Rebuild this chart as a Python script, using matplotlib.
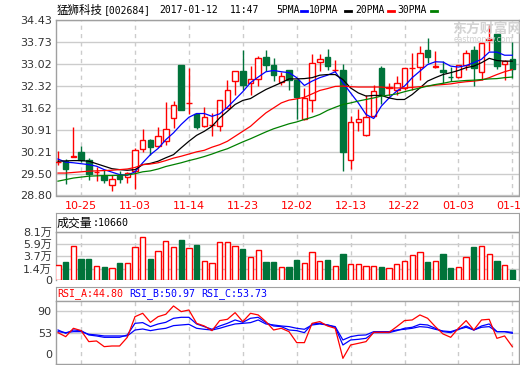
import matplotlib
matplotlib.use('Agg')
import matplotlib.pyplot as plt
from matplotlib.patches import Rectangle
from matplotlib.lines import Line2D

plt.rcParams['font.family'] = ['DejaVu Sans', 'Noto Sans CJK SC']

# ---- data ----
dates = ['10-20', '10-21', '10-24', '10-25', '10-26', '10-27', '10-28', '10-31',
         '11-01', '11-02', '11-03', '11-04', '11-07', '11-08', '11-09', '11-10',
         '11-11', '11-14', '11-15', '11-16', '11-17', '11-18', '11-21', '11-22',
         '11-23', '11-24', '11-25', '11-28', '11-29', '11-30', '12-01', '12-02',
         '12-05', '12-06', '12-07', '12-08', '12-09', '12-12', '12-13', '12-14',
         '12-15', '12-16', '12-19', '12-20', '12-21', '12-22', '12-23', '12-26',
         '12-27', '12-28', '12-29', '12-30', '01-03', '01-04', '01-05', '01-06',
         '01-09', '01-10', '01-11', '01-12']
shown_dates = ['10-25', '11-03', '11-14', '11-23', '12-02', '12-13', '12-22', '01-03', '01-12']

opens = [29.87, 29.90, 30.05, 30.20, 29.93, 29.55, 29.44, 29.13, 29.45, 29.38,
         29.57, 30.28, 30.58, 30.38, 30.54, 31.29, 32.98, 31.76, 31.43, 31.02,
         31.05, 31.02, 31.61, 32.47, 32.80, 32.42, 32.55, 33.24, 32.99, 32.45,
         32.84, 32.52, 31.24, 31.86, 33.08, 33.25, 32.81, 32.83, 29.93, 31.15,
         30.73, 31.34, 32.90, 32.25, 32.18, 32.25, 32.88, 32.92, 33.47, 32.91,
         32.81, 32.61, 32.60, 33.00, 33.47, 32.77, 33.80, 33.99, 33.03, 33.19]
highs = [30.22, 29.98, 31.00, 30.39, 30.01, 29.72, 29.63, 29.47, 29.60, 29.56,
         30.33, 30.94, 30.62, 31.00, 31.79, 31.83, 33.00, 32.88, 31.45, 31.63,
         31.44, 31.86, 32.49, 32.79, 33.48, 32.95, 33.27, 33.47, 33.20, 32.77,
         32.84, 32.52, 32.25, 33.33, 33.33, 33.51, 33.14, 33.03, 31.34, 31.57,
         32.04, 32.36, 32.97, 32.42, 32.63, 32.89, 33.38, 33.59, 33.86, 33.43,
         33.11, 32.92, 32.98, 33.47, 33.59, 33.70, 34.27, 33.99, 33.16, 33.72]
lows = [29.79, 29.18, 30.04, 29.88, 29.29, 29.26, 29.20, 28.96, 29.19, 29.20,
        29.02, 30.20, 30.11, 30.37, 30.43, 30.97, 31.53, 31.40, 30.92, 31.01,
        30.70, 30.88, 31.60, 32.02, 32.20, 32.04, 32.31, 32.79, 32.47, 32.36,
        32.20, 31.27, 31.21, 31.48, 32.79, 32.81, 32.77, 29.60, 29.66, 30.86,
        30.72, 31.32, 31.72, 31.99, 32.04, 32.18, 32.20, 32.52, 33.04, 32.88,
        32.42, 32.47, 32.58, 32.84, 32.31, 32.52, 33.43, 32.87, 32.50, 32.58]
closes = [29.88, 29.66, 30.07, 29.95, 29.50, 29.56, 29.31, 29.32, 29.34, 29.51,
          30.25, 30.57, 30.34, 30.70, 30.92, 31.70, 31.55, 31.78, 31.00, 31.33,
          31.06, 31.86, 32.18, 32.79, 32.36, 32.53, 33.21, 32.98, 32.68, 32.63,
          32.49, 31.97, 31.92, 33.05, 33.18, 32.97, 32.82, 30.21, 31.15, 31.26,
          31.32, 32.16, 32.07, 32.28, 32.40, 32.89, 32.89, 33.38, 33.25, 32.96,
          32.76, 32.59, 32.98, 33.37, 32.90, 33.70, 33.81, 32.97, 33.11, 32.87]

ma5 = [29.97, 29.87, 29.85, 29.82, 29.79, 29.74, 29.63, 29.55, 29.47, 29.45,
       29.56, 29.85, 30.11, 30.31, 30.59, 30.81, 31.08, 31.31, 31.43, 31.43,
       31.34, 31.42, 31.63, 31.88, 32.13, 32.42, 32.60, 32.77, 32.81, 32.77,
       32.74, 32.58, 32.33, 32.47, 32.58, 32.66, 32.77, 32.42, 32.09, 31.77,
       31.40, 31.27, 31.67, 31.93, 32.15, 32.31, 32.58, 32.79, 33.00, 33.09,
       33.08, 32.95, 32.92, 32.97, 33.06, 33.17, 33.40, 33.40, 33.30, 33.30]
ma10 = [29.90, 29.91, 29.92, 29.92, 29.90, 29.82, 29.74, 29.66, 29.63, 29.61,
        29.63, 29.79, 29.83, 29.90, 30.01, 30.11, 30.33, 30.54, 30.73, 30.86,
        31.02, 31.29, 31.50, 31.72, 31.85, 31.91, 32.06, 32.20, 32.31, 32.42,
        32.54, 32.54, 32.55, 32.58, 32.66, 32.68, 32.68, 32.52, 32.25, 32.09,
        31.99, 32.01, 32.01, 31.93, 31.88, 31.88, 32.04, 32.25, 32.47, 32.58,
        32.68, 32.74, 32.81, 32.90, 32.95, 33.06, 33.20, 33.13, 33.11, 33.11]
ma20 = [29.52, 29.52, 29.54, 29.56, 29.58, 29.59, 29.60, 29.61, 29.63, 29.65,
        29.70, 29.79, 29.81, 29.85, 29.92, 30.00, 30.06, 30.13, 30.20, 30.25,
        30.35, 30.43, 30.54, 30.70, 30.86, 31.02, 31.24, 31.45, 31.61, 31.77,
        31.86, 31.90, 31.95, 32.06, 32.17, 32.23, 32.30, 32.31, 32.29, 32.28,
        32.28, 32.28, 32.28, 32.25, 32.25, 32.25, 32.27, 32.29, 32.31, 32.34,
        32.36, 32.38, 32.42, 32.45, 32.47, 32.50, 32.58, 32.68, 32.77, 32.84]
ma30 = [29.26, 29.31, 29.36, 29.39, 29.42, 29.43, 29.44, 29.44, 29.45, 29.46,
        29.50, 29.56, 29.59, 29.65, 29.73, 29.79, 29.85, 29.92, 29.98, 30.05,
        30.13, 30.22, 30.30, 30.41, 30.52, 30.62, 30.73, 30.84, 30.94, 31.02,
        31.10, 31.16, 31.24, 31.31, 31.40, 31.53, 31.63, 31.72, 31.77, 31.83,
        31.88, 31.93, 31.99, 32.02, 32.06, 32.13, 32.19, 32.25, 32.31, 32.36,
        32.40, 32.45, 32.47, 32.49, 32.50, 32.52, 32.54, 32.55, 32.58, 32.60]

# volume in 万 (10k lots)
volumes = [2.03, 2.65, 5.56, 3.20, 3.20, 1.84, 1.72, 1.47, 2.46, 2.46,
           5.37, 7.23, 3.20, 4.63, 6.49, 5.37, 6.74, 5.19, 5.81, 2.77,
           2.46, 6.30, 6.30, 5.56, 5.06, 3.51, 4.88, 2.65, 2.65, 1.65,
           1.65, 3.02, 2.46, 4.44, 2.77, 3.02, 1.84, 4.13, 2.21, 2.21,
           1.84, 1.84, 1.65, 1.47, 2.21, 2.77, 3.89, 4.44, 2.65, 2.77,
           4.13, 1.47, 1.65, 3.51, 5.44, 5.56, 4.07, 2.77, 2.03, 1.07]
vol_ticks = [1.4, 3.7, 5.9, 8.1]

rsi_a = [53.1, 46.3, 60.5, 56.5, 37.9, 39.0, 29.4, 30.5, 30.5, 45.2,
         80.2, 85.9, 70.6, 80.2, 84.2, 98.3, 88.7, 91.5, 68.9, 64.4,
         56.5, 73.5, 75.7, 87.0, 71.8, 85.9, 83.1, 71.8, 57.6, 60.5,
         54.8, 36.2, 36.2, 68.9, 71.8, 64.4, 60.5, 9.6, 32.2, 35.0,
         37.9, 53.7, 53.7, 53.7, 63.3, 73.5, 74.6, 83.1, 77.4, 63.3,
         50.9, 45.2, 60.5, 73.5, 57.6, 74.6, 75.7, 43.5, 47.5, 29.4]
rsi_b = [57.6, 52.0, 57.6, 56.5, 49.2, 47.5, 45.2, 45.2, 45.2, 49.2,
         68.9, 70.1, 63.3, 67.8, 70.6, 77.4, 79.1, 79.1, 67.8, 63.3,
         58.8, 64.4, 68.9, 74.6, 70.6, 77.4, 79.1, 70.1, 64.4, 63.3,
         57.6, 56.5, 53.1, 67.8, 68.9, 66.1, 62.2, 32.2, 40.7, 41.8,
         43.5, 53.1, 53.1, 53.1, 56.5, 60.5, 62.2, 67.2, 66.1, 60.5,
         54.8, 53.1, 58.8, 64.4, 57.6, 64.4, 67.8, 54.8, 54.8, 52.0]
rsi_c = [54.8, 53.1, 54.8, 54.8, 50.3, 49.2, 47.5, 47.5, 47.5, 47.5,
         57.6, 59.3, 56.5, 58.8, 60.5, 65.0, 66.1, 67.2, 60.5, 58.8,
         57.6, 60.5, 64.4, 67.8, 68.9, 70.1, 74.6, 67.8, 66.1, 64.4,
         63.3, 60.5, 58.8, 66.1, 67.8, 66.1, 63.3, 40.7, 46.3, 48.6,
         49.2, 54.8, 54.8, 54.8, 57.6, 58.8, 60.5, 63.3, 62.2, 58.8,
         55.9, 54.8, 58.8, 62.2, 57.6, 62.2, 63.3, 54.8, 54.8, 53.7]

price_labels = ['28.80', '29.50', '30.21', '30.91', '31.62', '32.32', '33.02', '33.73', '34.43']
price_min, price_max = 28.80, 34.43

RED = '#ff0000'
GREEN = '#00733a'
GRID = '#cccccc'
SPINE = '#a0a0a0'
LABEL = '#333333'

W, H = 520, 365
fig = plt.figure(figsize=(W / 100, H / 100), dpi=100, facecolor='white')


def px_axes(x0, y0, x1, y1):
    return fig.add_axes([x0 / W, 1 - y1 / H, (x1 - x0) / W, (y1 - y0) / H])


def fig_text(x, y, s, **kw):
    fig.text(x / W, 1 - y / H, s, va='center', ha='left', **kw)


x = list(range(len(dates)))
tick_idx = [dates.index(d) for d in shown_dates]
xlim = (-0.26, len(dates) - 0.13)


def style(ax):
    for s in ax.spines.values():
        s.set_color(SPINE)
        s.set_linewidth(1)
    ax.set_xlim(*xlim)
    ax.set_xticks(tick_idx)
    ax.tick_params(length=0, labelsize=8, colors=LABEL, pad=3)
    ax.grid(axis='x', color=GRID, linestyle=(0, (3, 3)), linewidth=1)
    ax.grid(axis='y', color=GRID, linestyle='-', linewidth=1)
    ax.set_axisbelow(True)


def header_box(y0, y1):
    hx = px_axes(56, y0, 519, y1)
    hx.set_xticks([])
    hx.set_yticks([])
    for s in hx.spines.values():
        s.set_color(SPINE)
    return hx


# ---- price panel ----
ax = px_axes(56, 20, 519, 195.5)
style(ax)
ax.set_ylim(price_min, price_max)
ax.set_yticks([float(v) for v in price_labels])
ax.set_yticklabels(price_labels)
ax.set_xticklabels(shown_dates, color=RED)
ax.tick_params(axis='x', labelcolor=RED, pad=4)

w = 0.72
for i in x:
    o, h, l, c = opens[i], highs[i], lows[i], closes[i]
    up = c >= o
    col = RED if up else GREEN
    ax.vlines(i, l, h, color=col, linewidth=1, zorder=2)
    ax.add_patch(Rectangle((i - w / 2, min(o, c)), w, max(abs(c - o), 0.004),
                           facecolor='white' if up else GREEN, edgecolor=col,
                           linewidth=1, zorder=3))

ax.plot(x, ma5, color='#0000ff', linewidth=0.9, zorder=4)
ax.plot(x, ma10, color='black', linewidth=0.9, zorder=4)
ax.plot(x, ma20, color=RED, linewidth=0.9, zorder=4)
ax.plot(x, ma30, color='#008000', linewidth=0.9, zorder=4)

# watermark
fig_text(452, 29, '东方财富网', fontsize=10, fontweight='bold', color='#c8c8c8',
         family=['Noto Sans CJK SC'], alpha=0.8, zorder=10)
fig_text(454, 40, 'eastmoney.com', fontsize=5.5, color='#d0d0d0', zorder=10)

# title + legend
fig_text(57, 10, '猛狮科技', fontsize=8.3, family=['Noto Sans CJK SC'], color='black')
fig_text(104, 10, '[002684]', fontsize=7, family=['DejaVu Sans Mono'], color='black')
fig_text(159, 10, '2017-01-12', fontsize=7, family=['DejaVu Sans Mono'], color='black')
fig_text(230, 10, '11:47', fontsize=7, family=['DejaVu Sans Mono'], color='black')
legend_items = [('5PMA', 276, '#0000ff', 301), ('10PMA', 309, 'black', 345),
                ('20PMA', 355, RED, 388), ('30PMA', 397, '#008000', 431)]
for name, tx, col, dx in legend_items:
    fig_text(tx, 10, name, fontsize=7, family=['DejaVu Sans Mono'], color='black')
    fig.add_artist(Line2D([dx / W, (dx + 6) / W], [1 - 11 / H, 1 - 11 / H],
                          transform=fig.transFigure, color=col, linewidth=2))

# ---- volume panel ----
header_box(213.3, 232.3)
fig_text(57, 223, '成交量', fontsize=8.6, family=['Noto Sans CJK SC'], color='black')
fig_text(93, 223, ':10660', fontsize=7.2, family=['DejaVu Sans Mono'], color='black')

vmin = -0.7
axv = px_axes(56, 232.3, 519, 280)
style(axv)
axv.spines['bottom'].set_visible(False)
axv.set_xticklabels([])
axv.set_ylim(vmin, vol_ticks[-1])
axv.set_yticks([vmin] + vol_ticks)
axv.set_yticklabels(['0'] + ['%.1f万' % v for v in vol_ticks])
for i in x:
    up = closes[i] >= opens[i]
    col = RED if up else GREEN
    axv.bar(i, volumes[i] - vmin, bottom=vmin, width=0.7,
            facecolor='white' if up else GREEN, edgecolor=col, linewidth=1, zorder=3)

# ---- RSI panel ----
header_box(287.3, 301.3)
fig_text(57, 294, 'RSI_A:44.80', fontsize=7.2, family=['DejaVu Sans Mono'], color=RED)
fig_text(129, 294, 'RSI_B:50.97', fontsize=7.2, family=['DejaVu Sans Mono'], color='#0000ff')
fig_text(201, 294, 'RSI_C:53.73', fontsize=7.2, family=['DejaVu Sans Mono'], color='#0000ff')

axr = px_axes(56, 301.3, 519, 364)
style(axr)
axr.set_xticklabels([])
axr.set_ylim(0, 106.2)
axr.set_yticks([53, 90])
axr.set_yticklabels(['53', '90'])
axr.text(-0.008, 0.14, '0', transform=axr.transAxes, ha='right', va='center',
         fontsize=8, color=LABEL)
axr.plot(x, rsi_c, color='#0000ff', linewidth=0.9)
axr.plot(x, rsi_b, color='#0000ff', linewidth=0.9)
axr.plot(x, rsi_a, color=RED, linewidth=0.9)

fig.savefig('out.png', dpi=100, facecolor='white')
